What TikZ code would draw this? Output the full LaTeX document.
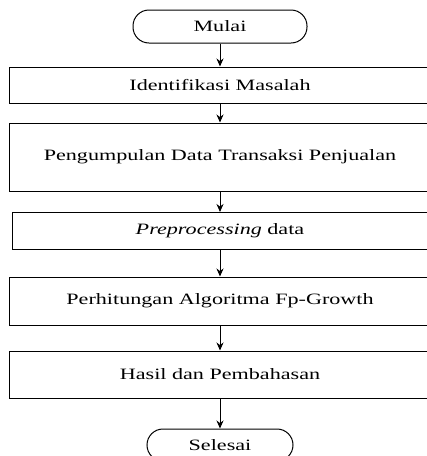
\documentclass[tikz,border=0pt]{standalone}
\usepackage{fontspec}
\setmainfont{Liberation Serif}
\usetikzlibrary{arrows.meta}

\newcommand{\lebar}[1]{\scalebox{1.4}[1]{#1}}

\begin{document}
\begin{tikzpicture}[x=1pt,y=-1pt,every node/.style={black},
	proses/.style={draw,line width=1pt,inner sep=0pt,minimum width=421pt,font=\fontsize{15.8}{18}\selectfont},
	terminal/.style={draw,line width=1pt,inner sep=0pt,rounded corners=16pt,minimum height=33pt,font=\fontsize{15.8}{18}\selectfont},
	panah/.style={line width=1pt,-{Stealth[length=8pt,width=7pt]}}]
	\clip (0,0) rectangle (427,456);

	\node[terminal,minimum width=174pt] (mulai) at (220,26.5) {\lebar{Mulai}};
	\node[proses,minimum height=36pt] (identifikasi) at (220,85) {\lebar{Identifikasi Masalah}};
	\node[proses,minimum height=68pt] (pengumpulan) at (220,157) {\lebar{Pengumpulan Data Transaksi Penjualan}};
	\node[proses,minimum height=36.5pt,minimum width=416pt] (preprocessing) at (220,230.75) {\lebar{\textit{Preprocessing} data}};
	\node[proses,minimum height=48pt] (perhitungan) at (220,301) {\lebar{Perhitungan Algoritma Fp-Growth}};
	\node[proses,minimum height=47pt] (hasil) at (220,374.5) {\lebar{Hasil dan Pembahasan}};
	\node[terminal,minimum width=146pt,minimum height=32pt] (selesai) at (220,445) {\lebar{Selesai}};

	\draw[panah] (mulai) -- (identifikasi);
	\draw[panah] (identifikasi) -- (pengumpulan);
	\draw[panah] (pengumpulan) -- (preprocessing);
	\draw[panah] (preprocessing) -- (perhitungan);
	\draw[panah] (perhitungan) -- (hasil);
	\draw[panah] (hasil) -- (selesai);
\end{tikzpicture}
\end{document}
